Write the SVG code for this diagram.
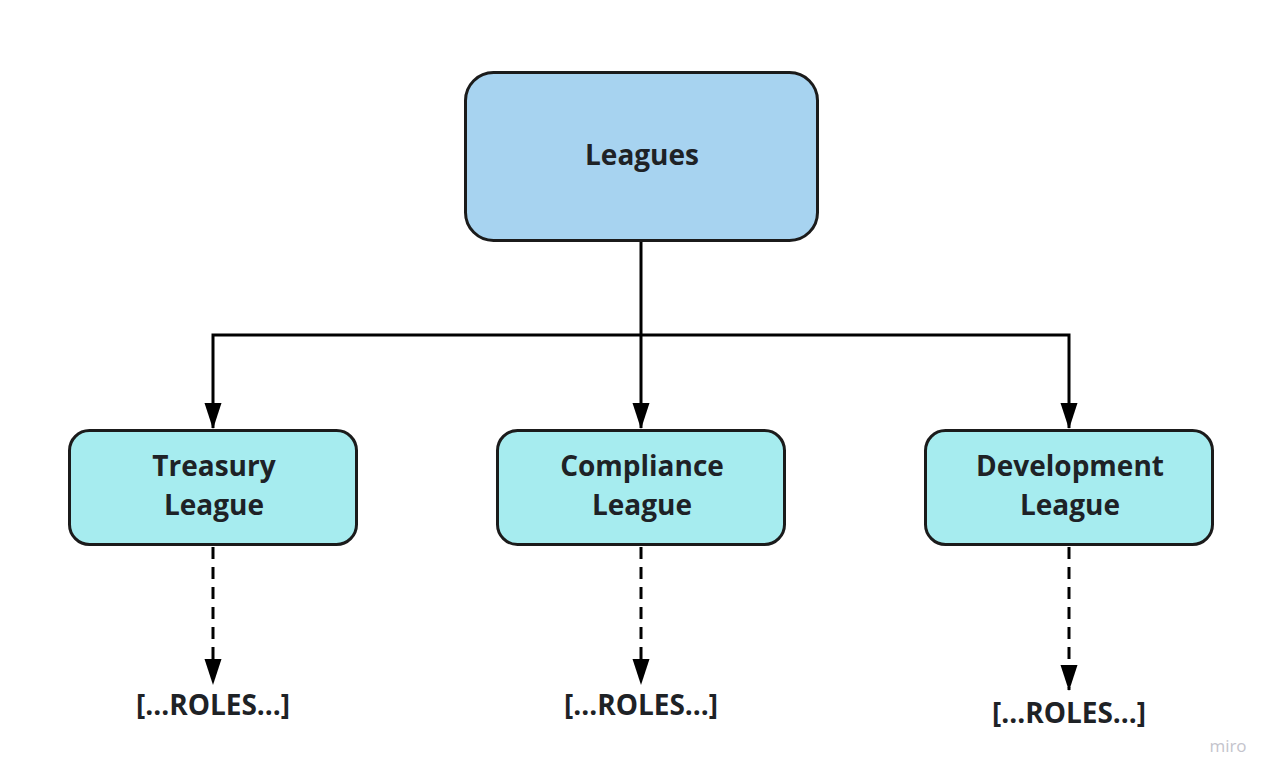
<svg xmlns="http://www.w3.org/2000/svg" width="1278" height="782" viewBox="0 0 1278 782">
<style>
.box{stroke:#1b1b1b;stroke-width:3}
.top{fill:#a7d3f0}
.child{fill:#a6ecef}
.lbl{font-family:"Open Sans",sans-serif;font-weight:700;font-size:28px;fill:#1e2226;text-anchor:middle}
.solid{stroke:#000;stroke-width:3;fill:none}
.dash{stroke:#000;stroke-width:3;fill:none;stroke-dasharray:12 8}
.wm{font-family:"Open Sans",sans-serif;font-size:17px;fill:#c4c4cc;text-anchor:middle}
</style>
<defs>
<marker id="ahd" markerUnits="userSpaceOnUse" viewBox="0 0 26 18" markerWidth="26" markerHeight="18" refX="25" refY="9" orient="auto">
<path d="M0,0.5 L26,9 L0,17.5 Z" fill="#000"/>
</marker>
</defs>
<rect width="1278" height="782" fill="#fff"/>
<g id="connectors">
<path class="solid" d="M641,241 V335"/>
<path class="solid" d="M641,335 H213 V428" marker-end="url(#ahd)"/>
<path class="solid" d="M641,335 V428" marker-end="url(#ahd)"/>
<path class="solid" d="M641,335 H1069 V428" marker-end="url(#ahd)"/>
<path class="dash" d="M213,547 V684" marker-end="url(#ahd)"/>
<path class="dash" d="M641,547 V684" marker-end="url(#ahd)"/>
<path class="dash" d="M1069,547 V690" marker-end="url(#ahd)"/>
</g>
<g id="leagues">
<rect class="box top" x="465.5" y="72.5" width="352" height="168" rx="28"/>
<text class="lbl" x="642" y="165">Leagues</text>
</g>
<g id="treasury">
<rect class="box child" x="69.5" y="430.5" width="287" height="114" rx="20"/>
<text class="lbl" x="214" y="476">Treasury</text>
<text class="lbl" x="214" y="515">League</text>
</g>
<g id="compliance">
<rect class="box child" x="497.5" y="430.5" width="287" height="114" rx="20"/>
<text class="lbl" x="642" y="476">Compliance</text>
<text class="lbl" x="642" y="515">League</text>
</g>
<g id="development">
<rect class="box child" x="925.5" y="430.5" width="287" height="114" rx="20"/>
<text class="lbl" x="1070" y="476">Development</text>
<text class="lbl" x="1070" y="515">League</text>
</g>
<g id="roles1"><text class="lbl" x="213" y="715">[...ROLES...]</text></g>
<g id="roles2"><text class="lbl" x="641" y="715">[...ROLES...]</text></g>
<g id="roles3"><text class="lbl" x="1069" y="723">[...ROLES...]</text></g>
<text class="wm" x="1228" y="752">miro</text>
</svg>
